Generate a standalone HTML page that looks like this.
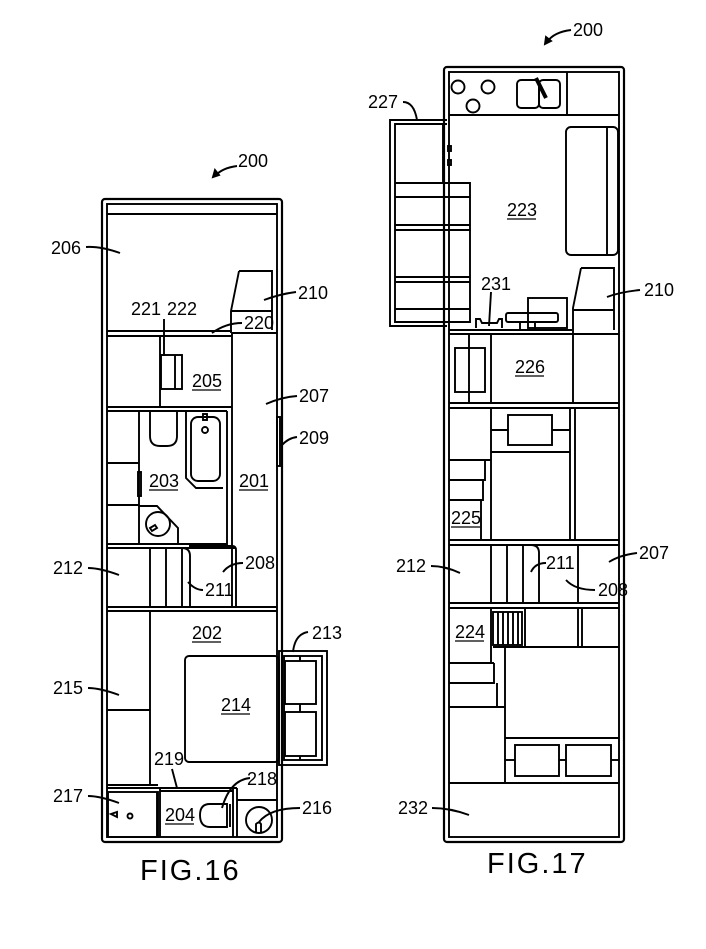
<!DOCTYPE html>
<html><head><meta charset="utf-8"><style>html,body{margin:0;padding:0;background:#fff}svg{display:block}text{font-family:"Liberation Sans",sans-serif;font-size:18px;fill:#000}</style></head>
<body>
<svg width="706" height="949" viewBox="0 0 706 949" xmlns="http://www.w3.org/2000/svg" fill="none" stroke="#000" stroke-width="1.9">
<!-- ===== FIG 16 ===== -->
<rect x="102" y="199" width="180" height="643" rx="3" stroke-width="2.2"/>
<rect x="107" y="204" width="170" height="633"/>
<line x1="107" y1="214" x2="277" y2="214"/>
<line x1="107" y1="331" x2="232" y2="331"/><line x1="107" y1="336" x2="232" y2="336"/>
<line x1="232" y1="333" x2="277" y2="333"/>
<path d="M239 271 L272 271 L272 330 M231 311 L272 311 M239 271 L231 311 L231 333"/>
<line x1="232" y1="333" x2="232" y2="607"/>
<line x1="160" y1="336" x2="160" y2="407"/>
<rect x="161" y="355" width="21" height="34"/><line x1="175" y1="355" x2="175" y2="389"/>
<line x1="107" y1="407" x2="232" y2="407"/><line x1="107" y1="411" x2="227" y2="411"/>
<line x1="227" y1="411" x2="227" y2="545"/>
<line x1="139" y1="411" x2="139" y2="544"/>
<line x1="107" y1="463" x2="139" y2="463"/><line x1="107" y1="505" x2="139" y2="505"/>
<rect x="138" y="472" width="3" height="24"/>
<path d="M150 411 L150 436 Q150 446 160 446 L167 446 Q177 446 177 436 L177 411"/>
<path d="M186 411 L186 478 L196 488 L223 488"/>
<rect x="191" y="417" width="29" height="64" rx="7"/>
<circle cx="205" cy="430" r="3"/><rect x="203" y="414" width="4" height="6"/>
<path d="M139 506 L157 506 L178 528 L178 544"/>
<circle cx="158" cy="524" r="12"/>
<path d="M150 528 l5 -3 l2 3 l-5 3z"/>
<line x1="107" y1="544" x2="227" y2="544"/><line x1="107" y1="548" x2="236" y2="548"/>
<rect x="277" y="417" width="3" height="49"/>
<line x1="150" y1="548" x2="150" y2="607"/>
<line x1="166" y1="548" x2="166" y2="607"/>
<line x1="182" y1="548" x2="182" y2="607"/>
<path d="M190 607 L190 556 Q190 548 182 548 M189 546 L232 546 Q236 546 236 550 L236 607"/>
<line x1="107" y1="607" x2="277" y2="607"/><line x1="107" y1="611" x2="277" y2="611"/>
<line x1="150" y1="611" x2="150" y2="785"/>
<line x1="107" y1="710" x2="150" y2="710"/>
<line x1="107" y1="785" x2="158" y2="785"/>
<rect x="185" y="656" width="94" height="106" rx="4"/>
<rect x="279" y="651" width="48" height="114"/>
<rect x="284" y="656" width="38" height="104"/>
<rect x="285" y="661" width="31" height="43"/><rect x="285" y="712" width="31" height="44"/>
<line x1="300" y1="656" x2="300" y2="661"/><line x1="300" y1="704" x2="300" y2="712"/><line x1="300" y1="756" x2="300" y2="760"/>
<rect x="108" y="792" width="50" height="45"/>
<line x1="107" y1="788" x2="237" y2="788"/>
<line x1="160" y1="788" x2="160" y2="837"/><line x1="157" y1="792" x2="157" y2="837"/>
<line x1="160" y1="791" x2="233" y2="791"/>
<line x1="233" y1="788" x2="233" y2="837"/><line x1="237" y1="788" x2="237" y2="837"/>
<line x1="237" y1="800" x2="277" y2="800"/>
<path d="M220 804 L210 804 Q200 804 200 815 Q200 827 210 827 L227 827 L227 804 Z"/>
<line x1="230" y1="804" x2="230" y2="827"/>
<circle cx="259" cy="820" r="13"/>
<path d="M256 832 l0 -8 q3 -3 5 0 l0 8"/>
<path d="M111 814 l6 -2 l0 5 z"/><circle cx="130" cy="816" r="2.5"/>
<path d="M86 247 Q100 246 120 253 M296 292 Q280 294 264 300 M164 319 L164 356 M242 323 Q226 323 212 333 M297 396 Q282 397 266 404 M297 437 Q288 438 281 446 M88 568 Q100 568 119 575 M243 563 Q230 563 223 572 M203 590 Q195 590 188 582 M308 632 Q295 634 293 652 M88 688 Q100 688 119 695 M172 769 L177 788 M250 778 Q230 780 222 808 M88 796 Q100 796 119 803 M300 808 Q270 808 259 822"/>
<path d="M237 166 Q222 168 215 176" /><path d="M213 177 l2 -7 l4 5z" fill="#000"/>
<!-- ===== FIG 17 ===== -->
<rect x="444" y="67" width="180" height="775" rx="3" stroke-width="2.2"/>
<rect x="449" y="72" width="170" height="765"/>
<line x1="449" y1="115" x2="619" y2="115"/>
<circle cx="458" cy="87" r="6.5"/><circle cx="488" cy="87" r="6.5"/><circle cx="473" cy="106" r="6.5"/>
<rect x="517" y="80" width="22" height="28" rx="4"/><rect x="539" y="80" width="21" height="28" rx="4"/>
<path d="M536 78 L546 98" stroke-width="4"/>
<line x1="567" y1="72" x2="567" y2="115"/>
<path d="M447 120 L390 120 L390 326 L447 326"/>
<path d="M447 124 L395 124 L395 322 L470 322 L470 183 L443 183 L443 124"/>
<line x1="395" y1="183" x2="443" y2="183"/>
<line x1="395" y1="197" x2="470" y2="197"/>
<path d="M395 225 L470 225 M395 230 L470 230 M395 277 L470 277 M395 282 L470 282 M395 309 L470 309"/>
<rect x="448" y="146" width="3" height="5"/><rect x="448" y="160" width="3" height="5"/>
<rect x="566" y="127" width="52" height="128" rx="5"/><line x1="607" y1="127" x2="607" y2="255"/>
<path d="M581 268 L614 268 L614 330 M573 310 L614 310 M581 268 L573 308 L573 330"/>
<rect x="528" y="298" width="39" height="30"/>
<rect x="506" y="313" width="52" height="9" rx="2"/>
<line x1="520" y1="322" x2="520" y2="330"/><line x1="535" y1="322" x2="535" y2="330"/>
<path d="M476 328 L476 319 L480 319 L482 323 L497 323 L499 319 L502 319 L502 328"/>
<line x1="449" y1="330" x2="572" y2="330"/><line x1="449" y1="334" x2="619" y2="334"/>
<line x1="469" y1="334" x2="469" y2="403"/>
<rect x="455" y="348" width="30" height="44"/>
<line x1="491" y1="334" x2="491" y2="403"/>
<line x1="573" y1="330" x2="573" y2="403"/>
<line x1="449" y1="403" x2="619" y2="403"/><line x1="449" y1="408" x2="619" y2="408"/>
<line x1="491" y1="408" x2="491" y2="540"/>
<line x1="449" y1="460" x2="491" y2="460"/>
<path d="M449 480 L485 480 L485 460 M449 500 L483 500 L483 480 M481 500 L481 540"/>
<line x1="570" y1="408" x2="570" y2="540"/><line x1="575" y1="408" x2="575" y2="540"/>
<rect x="508" y="415" width="44" height="30"/>
<line x1="491" y1="430" x2="508" y2="430"/><line x1="552" y1="430" x2="570" y2="430"/>
<line x1="491" y1="452" x2="570" y2="452"/>
<line x1="449" y1="540" x2="619" y2="540"/><line x1="449" y1="545" x2="619" y2="545"/>
<line x1="491" y1="545" x2="491" y2="603"/>
<line x1="507" y1="545" x2="507" y2="603"/>
<line x1="523" y1="545" x2="523" y2="603"/>
<path d="M539 603 L539 553 Q539 545 531 545"/>
<line x1="578" y1="545" x2="578" y2="603"/>
<line x1="449" y1="603" x2="619" y2="603"/><line x1="449" y1="608" x2="619" y2="608"/>
<line x1="491" y1="608" x2="491" y2="663"/>
<rect x="493" y="612" width="29" height="33"/>
<path d="M498 612 V645 M503 612 V645 M508 612 V645 M513 612 V645 M518 612 V645"/>
<line x1="525" y1="608" x2="525" y2="647"/>
<line x1="493" y1="647" x2="619" y2="647"/>
<line x1="578" y1="608" x2="578" y2="647"/><line x1="582" y1="608" x2="582" y2="647"/>
<line x1="505" y1="647" x2="505" y2="783"/>
<line x1="449" y1="663" x2="494" y2="663"/>
<path d="M494 663 L494 683 L449 683 M497 683 L497 707 L449 707 M497 707 L505 707"/>
<line x1="505" y1="738" x2="619" y2="738"/>
<rect x="515" y="745" width="44" height="31"/><rect x="566" y="745" width="45" height="31"/>
<line x1="505" y1="760" x2="515" y2="760"/><line x1="559" y1="760" x2="566" y2="760"/><line x1="611" y1="760" x2="619" y2="760"/>
<line x1="449" y1="783" x2="619" y2="783"/>
<path d="M403 102 Q414 102 417 120 M491 292 L489 326 M640 290 Q620 292 607 297 M431 566 Q445 566 460 573 M546 563 Q535 563 531 572 M595 590 Q575 590 566 580 M637 553 Q620 555 609 562 M432 808 Q450 808 469 815"/>
<path d="M571 30 Q554 32 547 42"/><path d="M545 44 l1 -7 l5 4z" fill="#000"/>
<g stroke="none">
<text x="238" y="167">200</text>
<text x="51" y="254">206</text>
<text x="131" y="315">221</text><text x="167" y="315">222</text>
<text x="298" y="299">210</text>
<text x="244" y="329">220</text>
<text x="192" y="387">205</text>
<text x="299" y="402">207</text>
<text x="299" y="444">209</text>
<text x="149" y="487">203</text>
<text x="239" y="487">201</text>
<text x="53" y="574">212</text>
<text x="245" y="569">208</text>
<text x="205" y="596">211</text>
<text x="192" y="639">202</text>
<text x="312" y="639">213</text>
<text x="53" y="694">215</text>
<text x="221" y="711">214</text>
<text x="154" y="765">219</text>
<text x="247" y="785">218</text>
<text x="53" y="802">217</text>
<text x="165" y="821">204</text>
<text x="302" y="814">216</text>
<text x="573" y="36">200</text>
<text x="368" y="108">227</text>
<text x="507" y="216">223</text>
<text x="481" y="290">231</text>
<text x="644" y="296">210</text>
<text x="515" y="373">226</text>
<text x="451" y="524">225</text>
<text x="396" y="572">212</text>
<text x="546" y="569">211</text>
<text x="598" y="596">208</text>
<text x="639" y="559">207</text>
<text x="455" y="638">224</text>
<text x="398" y="814">232</text>
<text x="140" y="880" style="font-size:29px;letter-spacing:2px">FIG.16</text>
<text x="487" y="873" style="font-size:29px;letter-spacing:2px">FIG.17</text>
</g>
<path d="M192 390 H221 M149 490 H178 M239 490 H268 M192 642 H221 M221 714 H250 M165 824 H194 M507 219 H536 M515 376 H544 M451 527 H480 M455 641 H484" stroke-width="1.3"/>
</svg>
</body></html>
